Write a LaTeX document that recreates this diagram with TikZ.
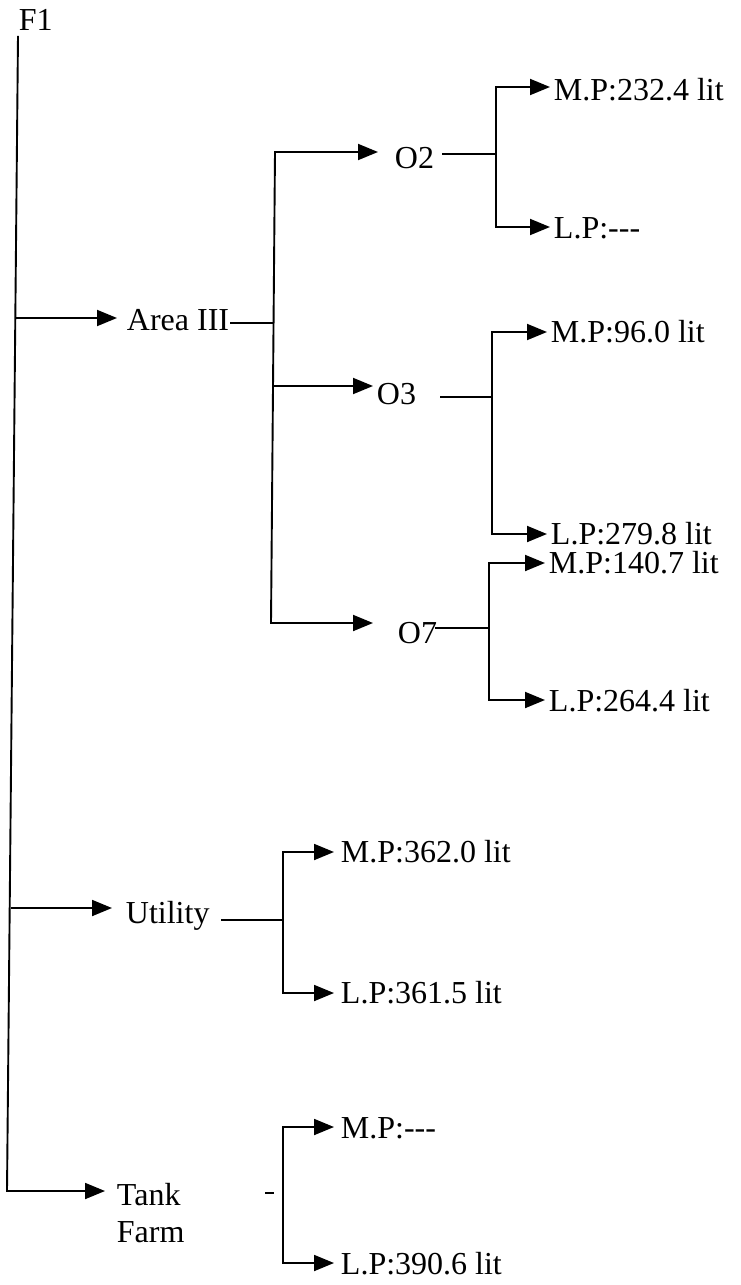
\documentclass[tikz,border=0pt]{standalone}
\usepackage{fontspec}
\setmainfont{Liberation Serif}
\usetikzlibrary{arrows.meta}
\begin{document}
\begin{tikzpicture}[x=1pt,y=-1pt,line width=1.9pt,
  lbl/.style={anchor=base west,inner sep=0pt,font=\fontsize{32}{38}\selectfont},
  arr/.style={-{Triangle[length=20pt,width=16pt]}},
  twoarr/.style={{Triangle[length=20pt,width=16pt]}-{Triangle[length=20pt,width=16pt]}}]
\useasboundingbox (0,0) rectangle (740,1285);
% labels
\node[lbl] (f1) at (18,30) {F1};
\node[lbl] (area) at (126,330) {Area III};
\node[lbl] (o2) at (394,168) {O2};
\node[lbl] (o3) at (376,404) {O3};
\node[lbl] (o7) at (397,643) {O7};
\node[lbl] (util) at (125,923) {Utility};
\node[lbl] (tank) at (116,1205) {Tank};
\node[lbl] (farm) at (116,1242) {Farm};
\node[lbl] (mp2) at (553,100) {M.P:232.4 lit};
\node[lbl] (lp2) at (553,238) {L.P:-{}-{}-};
\node[lbl] (mp3) at (550,342) {M.P:96.0 lit};
\node[lbl] (lp3) at (550,544) {L.P:279.8 lit};
\node[lbl] (mp7) at (548,573) {M.P:140.7 lit};
\node[lbl] (lp7) at (548,711) {L.P:264.4 lit};
\node[lbl] (mpu) at (340,862) {M.P:362.0 lit};
\node[lbl] (lpu) at (340,1003) {L.P:361.5 lit};
\node[lbl] (mpt) at (340,1138) {M.P:-{}-{}-};
\node[lbl] (lpt) at (340,1274) {L.P:390.6 lit};
% junction coordinates
\coordinate (bot) at (7,1191);
\coordinate (sa) at (16,318);
\coordinate (su) at (11,908);
\coordinate (abt) at (275,152);
\coordinate (a3) at (273,386);
\coordinate (abb) at (271,623);
\coordinate (am) at (274,323);
\coordinate (b2t) at (496,87);
\coordinate (b2m) at (496,154);
\coordinate (b2b) at (496,227);
\coordinate (b3t) at (492,332);
\coordinate (b3m) at (492,397);
\coordinate (b3b) at (492,534);
\coordinate (b7t) at (489,563);
\coordinate (b7m) at (489,628);
\coordinate (b7b) at (489,700);
\coordinate (but) at (283,852);
\coordinate (bum) at (283,920);
\coordinate (bub) at (283,993);
\coordinate (btt) at (283,1127);
\coordinate (btb) at (283,1263);
\coordinate (dsa) at (265,1193);
\coordinate (dsb) at (274,1193);
% main trunk
\draw[arr,shorten >=11pt] ([yshift=-5pt]f1.south west) -- (bot) -- (bot -| tank.west);
\draw[arr,shorten >=9pt] (sa) -- (sa -| area.west);
\draw[arr,shorten >=13pt] (su) -- (su -| util.west);
% Area III subtree
\draw (area.east |- am) -- (am);
\draw[twoarr,shorten <=16pt,shorten >=24pt] (abt -| o2.west) -- (abt) -- (abb) -- (abb -| o7.west);
\draw[arr,shorten >=3pt] (a3) -- (a3 -| o3.west);
% O2
\draw ([xshift=7pt]o2.east |- b2m) -- (b2m);
\draw[twoarr,shorten <=3pt,shorten >=3pt] (b2t -| mp2.west) -- (b2t) -- (b2b) -- (b2b -| lp2.west);
% O3
\draw ([xshift=23pt]o3.east |- b3m) -- (b3m);
\draw[twoarr,shorten <=3pt,shorten >=3pt] (b3t -| mp3.west) -- (b3t) -- (b3b) -- (b3b -| lp3.west);
% O7
\draw ([xshift=-3pt]o7.east |- b7m) -- (b7m);
\draw[twoarr,shorten <=3pt,shorten >=3pt] (b7t -| mp7.west) -- (b7t) -- (b7b) -- (b7b -| lp7.west);
% Utility
\draw ([xshift=11pt]util.east |- bum) -- (bum);
\draw[twoarr,shorten <=6pt,shorten >=6pt] (but -| mpu.west) -- (but) -- (bub) -- (bub -| lpu.west);
% Tank Farm
\draw (dsa) -- (dsb);
\draw[twoarr,shorten <=6pt,shorten >=6pt] (btt -| mpt.west) -- (btt) -- (btb) -- (btb -| lpt.west);
\end{tikzpicture}
\end{document}
